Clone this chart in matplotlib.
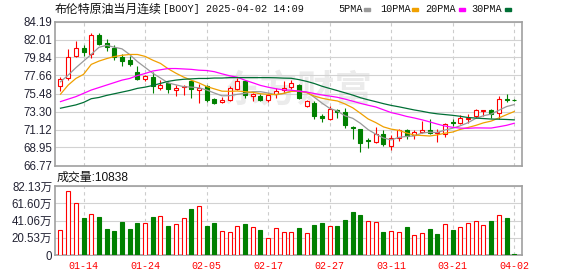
import numpy as np
import matplotlib
matplotlib.use('Agg')
import matplotlib.pyplot as plt
from matplotlib.patches import Rectangle

# 日期 (交易日)
dates = ['01-09', '01-10', '01-13', '01-14', '01-15', '01-16', '01-17', '01-20', '01-21', '01-22',
         '01-23', '01-24', '01-27', '01-28', '01-29', '01-30', '01-31', '02-03', '02-04', '02-05',
         '02-06', '02-07', '02-10', '02-11', '02-12', '02-13', '02-14', '02-17', '02-18', '02-19',
         '02-20', '02-21', '02-24', '02-25', '02-26', '02-27', '02-28', '03-03', '03-04', '03-05',
         '03-06', '03-07', '03-10', '03-11', '03-12', '03-13', '03-14', '03-17', '03-18', '03-19',
         '03-20', '03-21', '03-24', '03-25', '03-26', '03-27', '03-28', '03-31', '04-01', '04-02']

# K线数据
opens = [76.39, 77.35, 79.98, 80.98, 80.30, 82.60, 81.59, 80.98, 79.86, 79.57,
         78.04, 77.23, 77.43, 76.15, 76.75, 75.86, 76.23, 76.95, 75.94, 76.35,
         74.86, 74.41, 74.74, 76.06, 76.95, 75.14, 75.14, 74.74, 75.42, 75.94,
         76.32, 76.48, 73.98, 74.39, 72.78, 72.37, 73.46, 73.26, 71.44, 71.16,
         69.83, 69.63, 70.56, 69.07, 70.07, 71.04, 70.44, 70.84, 71.08, 70.68,
         70.56, 72.05, 71.97, 72.40, 72.78, 73.34, 73.50, 73.18, 74.79, 74.75]
highs = [77.44, 80.86, 81.87, 81.39, 82.84, 82.76, 82.07, 81.39, 80.26, 79.98,
         78.85, 77.76, 78.08, 77.15, 76.83, 76.55, 76.55, 77.15, 76.63, 76.55,
         74.94, 75.02, 76.35, 77.35, 77.03, 75.54, 75.42, 75.54, 76.15, 76.95,
         77.13, 76.61, 74.67, 74.59, 72.98, 73.98, 73.58, 73.78, 71.57, 71.24,
         70.15, 71.48, 71.08, 70.44, 71.24, 71.24, 71.04, 72.17, 72.37, 71.16,
         71.97, 72.45, 72.86, 72.96, 73.58, 73.50, 73.66, 75.20, 75.40, 74.87]
lows = [75.82, 77.15, 79.86, 80.06, 79.77, 81.39, 80.58, 79.57, 78.77, 78.85,
        77.15, 77.03, 75.54, 75.94, 75.54, 75.14, 75.26, 74.99, 74.33, 74.45,
        74.21, 74.33, 74.53, 75.94, 74.99, 74.53, 74.61, 74.45, 74.99, 75.60,
        76.08, 74.87, 73.90, 72.45, 72.05, 72.25, 72.49, 71.28, 69.95, 68.42,
        68.94, 69.55, 69.15, 68.66, 69.75, 69.95, 70.03, 70.76, 70.56, 69.63,
        70.24, 71.57, 71.77, 71.95, 72.57, 72.70, 72.57, 72.45, 74.47, 74.59]
closes = [77.23, 79.86, 80.98, 80.46, 82.52, 81.51, 81.06, 79.86, 79.45, 79.05,
          77.27, 77.55, 76.35, 76.55, 76.06, 76.15, 76.43, 76.06, 76.15, 74.74,
          74.33, 74.74, 76.15, 76.95, 75.26, 75.42, 74.74, 75.34, 75.82, 76.15,
          76.73, 74.91, 74.59, 72.78, 72.57, 73.58, 73.30, 71.65, 71.28, 69.55,
          69.75, 70.56, 69.35, 70.15, 71.04, 70.36, 70.84, 71.08, 70.68, 70.84,
          71.85, 71.97, 72.57, 72.50, 73.46, 73.46, 72.98, 74.87, 74.71, 74.67]

# 均线
ma5 = [76.9, 77.7, 78.6, 79.4, 80.21, 81.07, 81.31, 81.08, 80.88, 80.19,
       79.34, 78.64, 77.93, 77.35, 76.76, 76.53, 76.31, 76.25, 76.17, 75.91,
       75.54, 75.20, 75.22, 75.38, 75.49, 75.70, 75.70, 75.54, 75.32, 75.49,
       75.76, 75.79, 75.64, 75.03, 74.32, 73.69, 73.36, 72.78, 72.48, 71.87,
       71.11, 70.56, 70.10, 69.87, 70.17, 70.29, 70.35, 70.69, 70.80, 70.76,
       71.06, 71.28, 71.58, 71.95, 72.47, 72.79, 72.99, 73.45, 73.90, 74.14]
ma10 = [75.4, 76.5, 77.3, 77.8, 79.0, 79.4, 79.7, 79.95, 80.1, 80.20,
        80.20, 79.97, 79.51, 79.12, 78.47, 77.94, 77.47, 77.09, 76.76, 76.33,
        76.04, 75.76, 75.74, 75.78, 75.70, 75.62, 75.45, 75.38, 75.35, 75.49,
        75.73, 75.75, 75.59, 75.17, 74.91, 74.72, 74.58, 74.21, 73.75, 73.09,
        72.40, 71.96, 71.44, 71.17, 71.02, 70.70, 70.45, 70.40, 70.34, 70.47,
        70.68, 70.82, 71.14, 71.37, 71.62, 71.93, 72.14, 72.52, 72.92, 73.30]
ma20 = [74.5, 74.8, 75.1, 75.5, 75.9, 76.2, 76.5, 76.8, 77.1, 77.3,
        77.65, 77.9, 78.2, 78.35, 78.5, 78.5, 78.45, 78.4, 78.3, 78.26,
        78.12, 77.86, 77.62, 77.45, 77.08, 76.78, 76.46, 76.24, 76.06, 75.91,
        75.88, 75.75, 75.66, 75.48, 75.30, 75.17, 75.02, 74.80, 74.55, 74.29,
        74.06, 73.85, 73.51, 73.17, 72.96, 72.71, 72.52, 72.30, 72.05, 71.78,
        71.54, 71.39, 71.29, 71.27, 71.32, 71.31, 71.30, 71.46, 71.63, 71.88]
ma30 = [73.7, 73.9, 74.1, 74.4, 74.85, 75.0, 75.25, 75.45, 75.65, 75.85,
        76.1, 76.25, 76.45, 76.7, 76.95, 77.1, 77.2, 77.25, 77.3, 77.3,
        77.35, 77.35, 77.4, 77.4, 77.4, 77.4, 77.4, 77.4, 77.38, 77.34,
        77.32, 77.16, 76.95, 76.69, 76.36, 76.09, 75.83, 75.56, 75.29, 74.97,
        74.72, 74.49, 74.25, 74.04, 73.87, 73.68, 73.49, 73.33, 73.15, 73.02,
        72.93, 72.84, 72.72, 72.57, 72.51, 72.45, 72.39, 72.37, 72.34, 72.29]

# 成交量 (万)
volume = [29.8, 76.2, 61.5, 44.4, 48.8, 45.6, 30.9, 28.6, 39.7, 31.3,
          38.5, 38.5, 45.6, 46.4, 34.9, 37.3, 44.0, 54.8, 58.3, 34.9,
          38.5, 28.6, 27.4, 34.5, 37.3, 33.3, 29.8, 20.2, 32.1, 27.4,
          27.4, 32.1, 26.2, 36.1, 38.1, 34.5, 34.9, 41.7, 51.2, 48.0,
          40.5, 39.3, 27.4, 28.6, 27.4, 33.3, 23.8, 26.2, 30.9, 25.4,
          36.9, 29.8, 33.3, 38.1, 40.5, 35.7, 40.5, 47.6, 44.0, 1.08]
vol_up = [1, 1, 1, 0, 1, 0, 0, 0, 0, 0, 0, 1, 0, 1, 0, 1, 1, 0, 1, 0,
          0, 1, 1, 1, 0, 1, 0, 1, 1, 1, 1, 0, 1, 0, 0, 1, 0, 0, 0, 0,
          1, 1, 0, 1, 1, 0, 1, 1, 0, 0, 1, 0, 1, 1, 1, 1, 0, 1, 0, 0]

price_ticks = [66.77, 68.95, 71.12, 73.30, 75.48, 77.66, 79.84, 82.01, 84.19]
vol_ticks = [0, 20.53, 41.06, 61.60, 82.13]
vol_labels = ['0', '20.53万', '41.06万', '61.60万', '82.13万']

RED = '#ff0000'
GREEN = '#008000'
W, H = 578, 276

x = np.arange(len(closes))
o = np.array(opens)
c = np.array(closes)
up = c >= o
cols = [RED if u else GREEN for u in up]
faces = ['white' if u else GREEN for u in up]

fig = plt.figure(figsize=(W / 100, H / 100), dpi=100)
ax1 = fig.add_axes([55 / W, 1 - 165.5 / H, 467.3 / W, 144 / H])
ax2 = fig.add_axes([55 / W, 1 - 255 / H, 467.3 / W, 69 / H])

tick_idx = list(range(3, len(dates), 8))
tick_font = ['Liberation Sans', 'Noto Sans CJK SC']

for ax in (ax1, ax2):
    ax.set_xlim(-0.715, 60.05)
    for t in tick_idx:
        ax.axvline(t, color='#cccccc', lw=0.8, ls=(0, (3, 3)), zorder=0)
    ax.grid(axis='y', color='#d2d2d2', lw=0.8, zorder=0)
    ax.set_axisbelow(True)
    for s in ax.spines.values():
        s.set_color('#a0a0a0')
        s.set_linewidth(1.2)
    ax.tick_params(length=0, pad=2, labelsize=8.3, labelcolor='#222233')

# 水印
ax1.text(0.52, 0.52, '东方财富', transform=ax1.transAxes, ha='center', va='center',
         fontsize=27, color='#ebebeb', family='Noto Sans CJK SC', fontweight='bold', zorder=0)

# K线
ax1.vlines(x, lows, highs, colors=cols, lw=0.8, zorder=2)
ax1.bar(x, np.maximum(np.abs(c - o), 0.04), bottom=np.minimum(o, c), width=0.52,
        color=faces, edgecolor=cols, linewidth=0.8, zorder=3)
ax1.plot(x, ma5, color='#9a9a9a', lw=0.9, zorder=4)
ax1.plot(x, ma10, color='#f0a000', lw=0.9, zorder=4)
ax1.plot(x, ma20, color='#ff00ff', lw=0.9, zorder=4)
ax1.plot(x, ma30, color='#006f35', lw=0.9, zorder=4)

ax1.set_ylim(price_ticks[0], price_ticks[-1])
ax1.set_yticks(price_ticks)
ax1.set_yticklabels(['%.2f' % v for v in price_ticks], family=tick_font)
ax1.set_xticks(tick_idx)
ax1.set_xticklabels([])

# 成交量
vcols = [RED if u else GREEN for u in vol_up]
vfaces = ['white' if u else GREEN for u in vol_up]
ax2.bar(x, volume, width=0.52, color=vfaces, edgecolor=vcols, linewidth=0.8, zorder=3)
ax2.set_ylim(vol_ticks[0], vol_ticks[-1])
ax2.set_yticks(vol_ticks)
ax2.set_yticklabels(vol_labels, family=tick_font)
ax2.set_xticks(tick_idx)
ax2.set_xticklabels([dates[i] for i in tick_idx], family='Liberation Mono', fontsize=7.2)
ax2.tick_params(axis='x', labelcolor=RED, pad=4)

# 标题与图例
fig.text(55 / W, 1 - 9 / H, '布伦特原油当月连续', family='Noto Sans CJK SC', fontsize=8.6,
         va='center', color='#111111')
fig.text(163 / W, 1 - 9 / H, '[BOOY] 2025-04-02 14:09', family='Liberation Mono', fontsize=7.3,
         va='center', color='#111111')

legend = [('5PMA', 338.5, 364.5, '#9a9a9a'), ('10PMA', 380, 412, '#f0a000'),
          ('20PMA', 425.5, 459, '#ff00ff'), ('30PMA', 471, 505, '#006f35')]
for name, tx, rx, col in legend:
    fig.text(tx / W, 1 - 9 / H, name, family='Liberation Mono', fontsize=7.3, va='center',
             color='#111111')
    fig.patches.append(Rectangle((rx / W, 1 - 11 / H), 6 / W, 3 / H, color=col,
                                 transform=fig.transFigure, figure=fig))

fig.text(57 / W, 1 - 177.5 / H, '成交量:10838', family=['Liberation Sans', 'Noto Sans CJK SC'],
         fontsize=8.6, va='center', color='#111111')

fig.savefig('out.png', dpi=100)
